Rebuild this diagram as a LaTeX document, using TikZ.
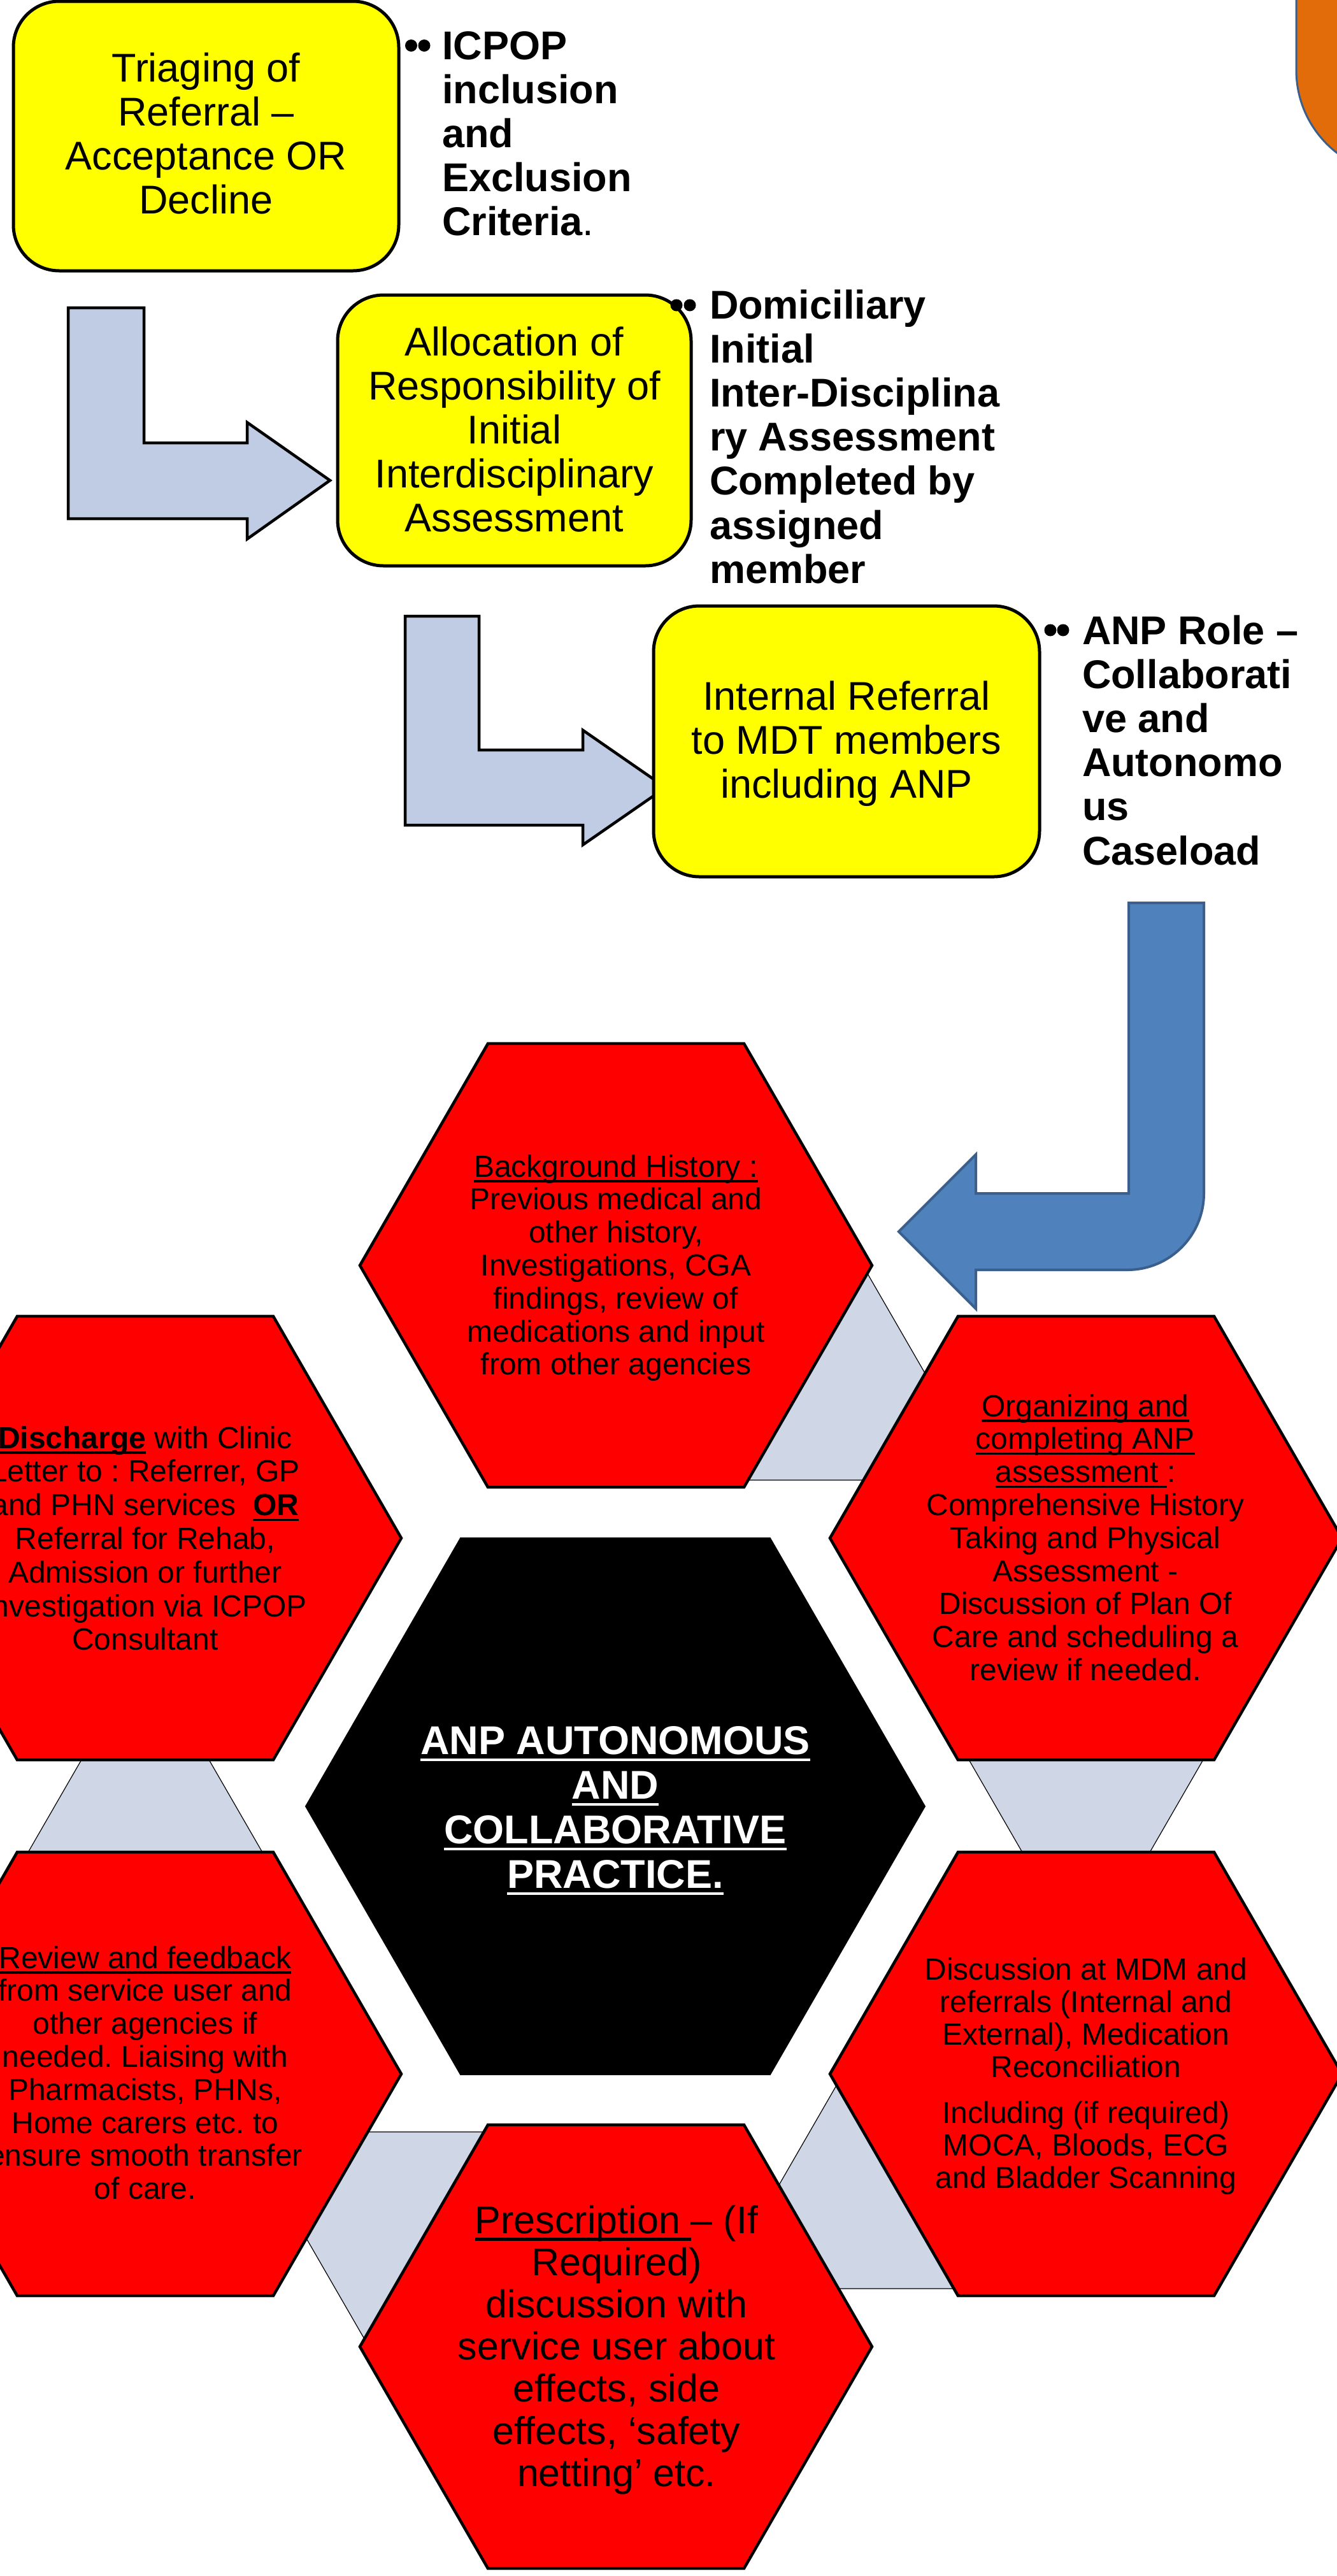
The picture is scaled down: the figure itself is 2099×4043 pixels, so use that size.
\documentclass[tikz,border=0pt]{standalone}
\usepackage{fontspec}
\setmainfont{Liberation Sans}
\frenchspacing

\definecolor{boxyellow}{RGB}{255,255,0}
\definecolor{hexfill}{RGB}{255,0,0}
\definecolor{steparrow}{RGB}{192,204,227}
\definecolor{linkfill}{RGB}{207,214,230}
\definecolor{turnblue}{RGB}{79,129,189}
\definecolor{turnedge}{RGB}{58,95,140}
\definecolor{taborange}{RGB}{227,108,10}

% underline drawn as a rule below the word
\newcommand\uln[1]{\leavevmode\setbox0=\hbox{#1}\rlap{\rule[-0.18em]{\wd0}{0.07em}}\box0}
% fixed first-line height, so that a node's top edge gives its first baseline
\newcommand\fst{\rule{0pt}{0.8em}}

\begin{document}
\begin{tikzpicture}[x=1pt,y=-1pt,
  ybox/.style={draw=black,line width=5pt,fill=boxyellow,rounded corners=72pt,inner sep=0pt},
  larrow/.style={draw=black,line width=4.5pt,fill=steparrow,line join=miter},
  hexagon/.style={draw=black,line width=4.5pt,fill=hexfill,line join=miter},
  corehex/.style={draw=black,line width=1pt,fill=black},
  link/.style={draw=black,line width=1.2pt,fill=linkfill},
  boxtext/.style={inner sep=0pt,outer sep=0pt,align=center,anchor=north,
                  font=\fontsize{63}{69.2}\selectfont},
  note/.style={inner sep=0pt,outer sep=0pt,align=left,anchor=north west,
               font=\fontsize{63}{69.2}\selectfont\bfseries},
  hextext/.style={inner sep=0pt,outer sep=0pt,align=center,anchor=north,
                  font=\fontsize{48}{51.8}\selectfont},
]
\useasboundingbox (0,0) rectangle (2099,4043);
\clip (0,0) rectangle (2099,4043);

% tab in the top right corner
\draw[draw=turnedge,line width=3pt,fill=taborange,rounded corners=164pt]
  (2035,-400) rectangle (2700,274);

% bent step arrows
\draw[larrow] (107,483) -- (226,483) -- (226,695) -- (388,695) -- (388,663)
  -- (518,754) -- (388,846) -- (388,814) -- (107,814) -- cycle;
\draw[larrow] (636,967) -- (752,967) -- (752,1177) -- (915,1177) -- (915,1146)
  -- (1045,1236) -- (915,1326) -- (915,1295) -- (636,1295) -- cycle;

% process boxes
\node[ybox,minimum width=605pt,minimum height=423pt] (triage) at (323.5,213.5) {};
\node[ybox,minimum width=555pt,minimum height=425pt] (alloc) at (807.5,675.5) {};
\node[ybox,minimum width=606pt,minimum height=425pt] (internal) at (1329,1163.5) {};

\node[boxtext] (triagetxt) at (323.5,77.6)
  {\fst Triaging of\\Referral –\\Acceptance OR\\Decline};
\node[boxtext] (alloctxt) at (807.5,507.6)
  {\fst Allocation of\\Responsibility of\\Initial\\Interdisciplinary\\Assessment};
\node[boxtext] (internaltxt) at (1329,1063.6)
  {\fst Internal Referral\\to MDT members\\including ANP};

% side notes with their bullets
\fill (645.5,71.5) circle (9.5pt);
\fill (666,71.5) circle (9.5pt);
\node[note] (note1) at (694,42.6)
  {\fst ICPOP\\inclusion\\and\\Exclusion\\Criteria{\mdseries .}};
\fill (1062,479) circle (9.5pt);
\fill (1083,479) circle (9.5pt);
\node[note] (note2) at (1114,449.6)
  {\fst Domiciliary\\Initial\\Inter-Disciplina\\ry Assessment\\Completed by\\assigned\\member};
\fill (1649,989) circle (9.5pt);
\fill (1669,989) circle (9.5pt);
\node[note] (note3) at (1699,960.6)
  {\fst ANP Role –\\Collaborati\\ve and\\Autonomo\\us\\Caseload};

% U-turn arrow into the cycle
\draw[draw=turnedge,line width=4pt,fill=turnblue,line join=miter]
  (1772,1417) -- (1890,1417) -- (1890,1873)
  arc[start angle=0,end angle=-90,radius=120pt]
  -- (1532,1993) -- (1532,2054) -- (1411,1933) -- (1532,1812)
  -- (1532,1873) -- (1772,1873) -- cycle;

% hexagon centres
\coordinate (core) at (966,2835);
\coordinate (history) at (967,1986);
\coordinate (organize) at (1705,2414);
\coordinate (mdm) at (1705,3255);
\coordinate (prescribe) at (967,3683);
\coordinate (review) at (228,3255);
\coordinate (discharge) at (228,2414);

% triangular links between neighbouring hexagons
\draw[link] (1336,1954) -- (1549,2323) -- (1123,2323) -- cycle;
\draw[link] (1492,2711.5) -- (1918,2711.5) -- (1705,3080.5) -- cycle;
\draw[link] (1342,3223) -- (1555,3592) -- (1129,3592) -- cycle;
\draw[link] (384.5,3346) -- (810.5,3346) -- (597.5,3715) -- cycle;
\draw[link] (228,2588.5) -- (441,2957.5) -- (15,2957.5) -- cycle;

% hexagons
\foreach \c in {history,organize,mdm,prescribe,review,discharge}{
  \draw[hexagon] (\c) +(0:402) -- +(60:402) -- +(120:402) -- +(180:402)
    -- +(240:402) -- +(300:402) -- cycle;
}
\draw[corehex] (core) +(0:486.5) -- +(60:486.5) -- +(120:486.5) -- +(180:486.5)
  -- +(240:486.5) -- +(300:486.5) -- cycle;

% hexagon texts
\node[boxtext,text=white,font=\fontsize{63}{70}\selectfont\bfseries] (coretxt) at (966,2702.6)
  {\fst\uln{ANP AUTONOMOUS}\\\uln{AND}\\\uln{COLLABORATIVE}\\\uln{PRACTICE.}};
\node[hextext] (historytxt) at (967,1808.6)
  {\fst\uln{Background History :}\\Previous medical and\\other history,\\Investigations, CGA\\findings, review of\\medications and input\\from other agencies};
\node[hextext] (organizetxt) at (1704,2184.6)
  {\fst\uln{Organizing and}\\\uln{completing ANP}\\\uln{assessment }:\\Comprehensive History\\Taking and Physical\\Assessment -\\Discussion of Plan Of\\Care and scheduling a\\review if needed.};
\node[hextext,font=\fontsize{48}{52.8}\selectfont] (dischargetxt) at (228,2234.6)
  {\fst\textbf{\uln{Discharge}} with Clinic\\Letter to : Referrer, GP\\and PHN services\ \ \textbf{\uln{OR}}\\Referral for Rehab,\\Admission or further\\Investigation via ICPOP\\Consultant};
\node[hextext] (reviewtxt) at (228,3050.6)
  {\fst\uln{Review and feedback}\\from service user and\\other agencies if\\needed. Liaising with\\Pharmacists, PHNs,\\Home carers etc. to\\ensure smooth transfer\\of care.};
\node[hextext,font=\fontsize{48}{51.3}\selectfont] (mdmtxt) at (1705,3068.6)
  {\fst Discussion at MDM and\\referrals (Internal and\\External), Medication\\Reconciliation\\[20pt]Including (if required)\\MOCA, Bloods, ECG\\and Bladder Scanning};
\node[hextext,font=\fontsize{61}{66.1}\selectfont] (prescribetxt) at (968,3456.7)
  {\fst\uln{Prescription }– (If\\Required)\\discussion with\\service user about\\effects, side\\effects, ‘safety\\netting’ etc.};
\end{tikzpicture}
\end{document}
